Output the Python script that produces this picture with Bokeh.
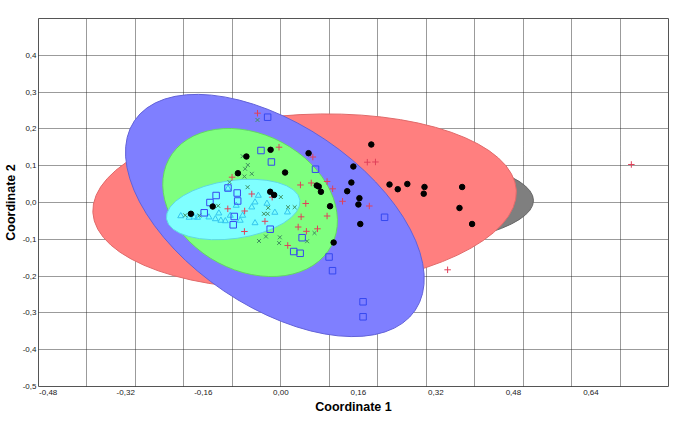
import numpy as np
from bokeh.plotting import figure
from bokeh.models import FixedTicker, CustomJSTickFormatter, Range1d
from bokeh.embed import file_html
from bokeh.resources import INLINE

# ---------------- data ----------------
x_tick_values = [-0.48, -0.32, -0.16, 0.00, 0.16, 0.32, 0.48, 0.64]
y_tick_values = [-0.5, -0.4, -0.3, -0.2, -0.1, 0.0, 0.1, 0.2, 0.3, 0.4]
x_grid_values = [-0.4, -0.3, -0.2, -0.1, 0.0, 0.1, 0.2, 0.3, 0.4, 0.5, 0.6, 0.7]
y_grid_values = [-0.4, -0.3, -0.2, -0.1, 0.0, 0.1, 0.2, 0.3, 0.4]

# group 1: black dots
dots_x = [-0.1855, -0.1405, -0.0885, -0.0710, -0.0211, -0.0219, -0.0137, 0.0088, 0.0573,
          0.0742, 0.0783, 0.0828, 0.1016, 0.1090, 0.1370, 0.1456, 0.1497, 0.1622, 0.1601,
          0.1640, 0.1867, 0.2243, 0.2413, 0.2611, 0.2965, 0.2949, 0.3742, 0.3687, 0.3947]
dots_y = [-0.0307, -0.0109, 0.0796, 0.1250, 0.1432, 0.0291, 0.0204, 0.0815, 0.1340,
          0.0462, 0.0435, 0.0291, -0.0101, -0.1087, 0.0307, 0.0543, 0.0978, 0.0117, -0.0054,
          -0.0584, 0.1576, 0.0489, 0.0361, 0.0503, 0.0421, 0.0239, 0.0421, -0.0149, -0.0584]

# group 2: red crosses
plus_x = [-0.0481, -0.0037, 0.0661, -0.1006, -0.0599, -0.0178, 0.0405, 0.0628, 0.0955,
          0.1070, 0.1274, 0.0515, -0.1094, -0.0746, -0.0327, -0.0751, 0.0419, 0.0955,
          0.0358, 0.0757, 0.0528, 0.0143, 0.1785, 0.1953, 0.1826, 0.3442, 0.7233]
plus_y = [0.2427, 0.1503, 0.1236, 0.0688, 0.0231, 0.0144, 0.0476, 0.0530, 0.0571,
          0.0372, 0.0033, -0.0027, -0.0171, -0.0231, -0.0511, -0.0788, -0.0389, -0.0367,
          -0.0666, -0.0715, -0.0783, -0.1168, 0.1095, 0.1101, -0.0095, -0.1829, 0.1033]

# group 3: blue squares
sq_x = [-0.0272, -0.0409, -0.0194, 0.0716, -0.1090, -0.0900, -0.1335, -0.0890, -0.1462,
        -0.1581, -0.0961, -0.0982, -0.0219, 0.0440, 0.0266, 0.0399, 0.0996, 0.1067,
        0.2141, 0.1697, 0.1697]
sq_y = [0.2318, 0.1413, 0.1101, 0.0905, 0.0394, 0.0258, 0.0190, 0.0041, 0.0000,
        -0.0280, -0.0380, -0.0606, -0.0726, -0.0957, -0.1332, -0.1380, -0.1481, -0.1853,
        -0.0402, -0.2698, -0.3106]

# group 4: green x marks
xm_x = [-0.0481, -0.0787, -0.0681, -0.0736, -0.0894, -0.0751, -0.0599, -0.1057, -0.0685,
        -0.1292, -0.1973, -0.1681, -0.0348, -0.0272, -0.0260, 0.0149, 0.0286, 0.0000,
        -0.0450, -0.0307, -0.0020, -0.0035, 0.0542, 0.0695]
xm_y = [0.2242, 0.1258, 0.1019, 0.0916, 0.0774, 0.0707, 0.0780, 0.0552, 0.0416,
        -0.0090, -0.0348, -0.0353, -0.0307, -0.0307, -0.0144, -0.0128, -0.0128, 0.0149,
        -0.1046, -0.0924, -0.0946, -0.1101, -0.1052, -0.0829]

# group 5: cyan triangles
tri_x = [-0.2065, -0.1892, -0.1789, -0.1718, -0.1483, -0.1350, -0.1237, -0.1145, -0.1278,
         -0.1043, -0.0838, -0.0787, -0.0599, -0.0532, -0.0532, -0.0464, 0.0137, -0.1090,
         -0.0920, -0.0286, -0.0123]
tri_y = [-0.0367, -0.0408, -0.0399, -0.0408, -0.0399, -0.0448, -0.0489, -0.0503, -0.0291,
         -0.0353, -0.0489, -0.0353, -0.0128, -0.0557, 0.0008, 0.0190, -0.0264, 0.0380,
         -0.0082, -0.0027, -0.0272]

# 95% ellipses (gray, red, blue, green, cyan)
ell_cx = [0.1309, 0.0491, -0.0123, -0.0634, -0.0982]
ell_cy = [0.0054, 0.0027, -0.0353, 0.0000, -0.0190]
ell_w = [0.781, 0.875, 0.699, 0.380, 0.278]
ell_h = [0.272, 0.473, 0.495, 0.370, 0.158]
ell_angle = [0.0, 3.0, -34.0, -28.0, 8.0]

# ---------------- styles ----------------
ell_fill = ["#7f7f7f", "#ff7f7f", "#7f7fff", "#7fff7f", "#7fffff"]
ell_line = ["#666666", "#e06a6a", "#6262d8", "#62d862", "#5fd8e0"]
FONT = "Liberation Sans"

p = figure(width=682, height=422, x_range=Range1d(-0.5, 0.8), y_range=Range1d(-0.5, 0.5),
           output_backend="svg", toolbar_location=None,
           min_border_left=32, min_border_right=14, min_border_top=18, min_border_bottom=36)

p.background_fill_color = "white"
p.border_fill_color = "white"
p.outline_line_color = "#555555"
p.outline_line_width = 1

# grids
p.xgrid.ticker = FixedTicker(ticks=x_grid_values)
p.ygrid.ticker = FixedTicker(ticks=y_grid_values)
for g in (p.xgrid, p.ygrid):
    g.grid_line_color = "#222222"
    g.grid_line_dash = "1 1"
    g.grid_line_width = 1
    g.grid_line_alpha = 0.9
    g.level = "underlay"

# axes
p.xaxis.ticker = FixedTicker(ticks=x_tick_values)
p.yaxis.ticker = FixedTicker(ticks=y_tick_values)
p.xaxis.formatter = CustomJSTickFormatter(code="return tick.toFixed(2).replace('.', ',');")
p.yaxis.formatter = CustomJSTickFormatter(code="return tick.toFixed(1).replace('.', ',');")
for ax in (p.xaxis, p.yaxis):
    ax.axis_line_color = None
    ax.major_tick_line_color = None
    ax.minor_tick_line_color = None
    ax.major_tick_out = 0
    ax.major_tick_in = 0
    ax.minor_tick_out = 0
    ax.major_label_text_font = FONT
    ax.major_label_text_font_size = "8px"
    ax.major_label_text_color = "#222222"
    ax.axis_label_text_font = FONT
    ax.axis_label_text_font_size = "12.5px"
    ax.axis_label_text_font_style = "bold"
    ax.axis_label_text_color = "black"
p.xaxis.major_label_standoff = 3
p.yaxis.major_label_standoff = 2
p.xaxis.axis_label = "Coordinate 1"
p.yaxis.axis_label = "Coordinate 2"
p.xaxis.axis_label_standoff = 2
p.yaxis.axis_label_standoff = 2

# ellipses
for i in range(len(ell_cx)):
    p.ellipse(x=[ell_cx[i]], y=[ell_cy[i]], width=[ell_w[i]], height=[ell_h[i]],
              angle=[ell_angle[i]], angle_units="deg",
              fill_color=ell_fill[i], fill_alpha=1.0,
              line_color=ell_line[i], line_width=1)

# points
p.scatter(tri_x, tri_y, marker="triangle", size=6, fill_color=None,
          line_color="#33c6ee", line_width=1)
p.scatter(xm_x, xm_y, marker="x", size=5.5, line_color="#3f8f5f", line_width=1)
p.scatter(sq_x, sq_y, marker="square", size=6.5, fill_color=None,
          line_color="#3548f0", line_width=1)
p.scatter(plus_x, plus_y, marker="cross", size=6.5, line_color="#e0405a", line_width=1)
p.scatter(dots_x, dots_y, marker="circle", size=5.5, fill_color="black", line_color="black")

open("out.html", "w").write(file_html(p, INLINE))
